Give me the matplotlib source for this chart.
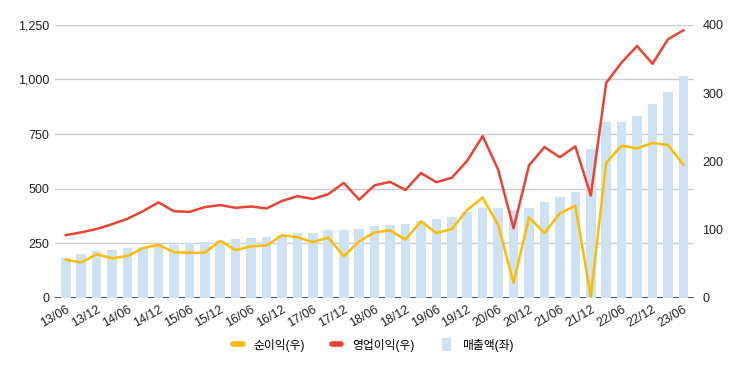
import numpy as np
import matplotlib
matplotlib.use("Agg")
import matplotlib.pyplot as plt
from matplotlib.lines import Line2D
from matplotlib.patches import Patch

plt.rcParams['font.family'] = ['Liberation Sans', 'Noto Sans CJK KR', 'DejaVu Sans']

# quarterly data, 13/06 ~ 23/06
quarters = ['13/06', '13/09', '13/12', '14/03', '14/06', '14/09', '14/12', '15/03',
            '15/06', '15/09', '15/12', '16/03', '16/06', '16/09', '16/12', '17/03',
            '17/06', '17/09', '17/12', '18/03', '18/06', '18/09', '18/12', '19/03',
            '19/06', '19/09', '19/12', '20/03', '20/06', '20/09', '20/12', '21/03',
            '21/06', '21/09', '21/12', '22/03', '22/06', '22/09', '22/12', '23/03',
            '23/06']

# 매출액 (left axis)
sales = [185, 203, 217, 221, 227, 235, 245, 244, 253, 258, 262, 269, 273, 278,
         287, 299, 299, 310, 310, 317, 327, 336, 340, 354, 363, 372, 395, 413,
         413, 403, 413, 440, 462, 485, 682, 806, 806, 833, 888, 943, 1016]

# 영업이익 (right axis)
op_profit = [92, 96, 101, 108, 116, 127, 140, 127, 126, 133, 136, 132, 134, 131,
             142, 149, 145, 152, 168.5, 144, 165, 170, 158, 183, 169.5, 176, 201,
             237, 188, 102, 194, 221, 206, 222, 150, 315, 345, 369, 343, 379, 392]

# 순이익 (right axis)
net_profit = [56, 52, 64, 58, 61.5, 73, 77.7, 67, 66, 66.4, 83.5, 70, 75.7, 76.7,
              91.8, 89, 81.6, 88.4, 61, 83, 96, 99, 85.5, 112, 95, 101, 129, 147,
              107, 22, 118, 95, 124, 135, 2, 198, 223, 219, 227, 224, 195]

yellow = '#fbbc04'
red = '#ea4335'
blue = '#cfe2f3'

x = np.arange(len(quarters))

fig = plt.figure(figsize=(7.39, 3.71), dpi=100)
ax = fig.add_axes([0.0744, 0.197, 0.865, 0.736])

ax.bar(x, sales, width=0.62, color=blue, zorder=2)
ax.axhline(0, color='#333333', lw=1.2, zorder=1)
ax.set_ylim(0, 1250)
ax.set_yticks([0, 250, 500, 750, 1000, 1250])
ax.set_yticklabels(['0', '250', '500', '750', '1,000', '1,250'])
ax.grid(axis='y', color='#cccccc', lw=1, zorder=0)
ax.set_axisbelow(True)
ax.set_xlim(-0.7, len(quarters) - 0.3)
ax.set_xticks(x[::2])
ax.set_xticklabels(quarters[::2], rotation=30, ha='right', rotation_mode='anchor')
for s in ax.spines.values():
    s.set_visible(False)
ax.tick_params(axis='both', length=0, labelsize=9, colors='#222222')
ax.tick_params(axis='y', pad=4)
ax.tick_params(axis='x', pad=4)

ax2 = ax.twinx()
ax2.plot(x, net_profit, color=yellow, lw=1.8, zorder=3)
ax2.plot(x, op_profit, color=red, lw=1.8, zorder=3)
ax2.set_ylim(0, 400)
ax2.set_yticks([0, 100, 200, 300, 400])
for s in ax2.spines.values():
    s.set_visible(False)
ax2.tick_params(axis='y', length=0, labelsize=9, colors='#222222', pad=6)

# legend
handles = [Line2D([0], [0], color=yellow, lw=4, solid_capstyle='round'),
           Line2D([0], [0], color=red, lw=4, solid_capstyle='round'),
           Patch(facecolor=blue, edgecolor='none')]
labels = ['순이익(우)', '영업이익(우)', '매출액(좌)']
fig.legend(handles, labels, loc='center', bbox_to_anchor=(0.505, 0.07), ncol=3,
           frameon=False, fontsize=8.5, handlelength=0.8, handleheight=1.3,
           columnspacing=2.3, handletextpad=0.9)

fig.savefig('out.png', dpi=100)
